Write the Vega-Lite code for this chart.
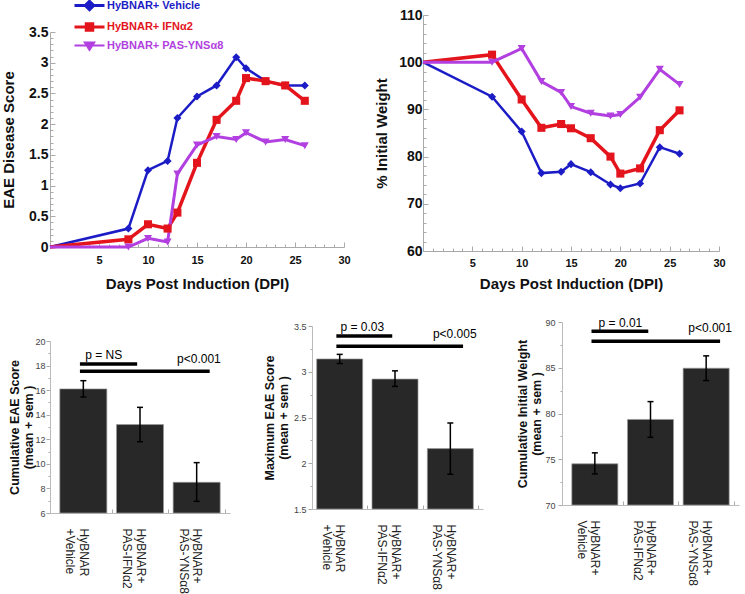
{
  "$schema": "https://vega.github.io/schema/vega-lite/v6.json",
  "padding": {"left": 1, "top": 0, "right": 0, "bottom": 0},
  "config": {"view": {"stroke": null}, "font": "Liberation Sans", "axis": {"grid": false, "labelOverlap": false}},
  "datasets": {
    "eae": [
      {"group": "HyBNAR+ Vehicle", "day": 0, "score": 0},
      {"group": "HyBNAR+ Vehicle", "day": 8, "score": 0.30},
      {"group": "HyBNAR+ Vehicle", "day": 10, "score": 1.25},
      {"group": "HyBNAR+ Vehicle", "day": 12, "score": 1.40},
      {"group": "HyBNAR+ Vehicle", "day": 13, "score": 2.10},
      {"group": "HyBNAR+ Vehicle", "day": 15, "score": 2.45},
      {"group": "HyBNAR+ Vehicle", "day": 17, "score": 2.63},
      {"group": "HyBNAR+ Vehicle", "day": 19, "score": 3.09},
      {"group": "HyBNAR+ Vehicle", "day": 20, "score": 2.91},
      {"group": "HyBNAR+ Vehicle", "day": 22, "score": 2.70},
      {"group": "HyBNAR+ Vehicle", "day": 24, "score": 2.63},
      {"group": "HyBNAR+ Vehicle", "day": 26, "score": 2.63},
      {"group": "HyBNAR+ IFNα2", "day": 0, "score": 0},
      {"group": "HyBNAR+ IFNα2", "day": 8, "score": 0.125},
      {"group": "HyBNAR+ IFNα2", "day": 10, "score": 0.37},
      {"group": "HyBNAR+ IFNα2", "day": 12, "score": 0.30},
      {"group": "HyBNAR+ IFNα2", "day": 13, "score": 0.56},
      {"group": "HyBNAR+ IFNα2", "day": 15, "score": 1.37},
      {"group": "HyBNAR+ IFNα2", "day": 17, "score": 2.07},
      {"group": "HyBNAR+ IFNα2", "day": 19, "score": 2.38},
      {"group": "HyBNAR+ IFNα2", "day": 20, "score": 2.75},
      {"group": "HyBNAR+ IFNα2", "day": 22, "score": 2.70},
      {"group": "HyBNAR+ IFNα2", "day": 24, "score": 2.63},
      {"group": "HyBNAR+ IFNα2", "day": 26, "score": 2.38},
      {"group": "HyBNAR+ PAS-YNSα8", "day": 0, "score": 0},
      {"group": "HyBNAR+ PAS-YNSα8", "day": 8, "score": 0.0},
      {"group": "HyBNAR+ PAS-YNSα8", "day": 10, "score": 0.14},
      {"group": "HyBNAR+ PAS-YNSα8", "day": 12, "score": 0.08},
      {"group": "HyBNAR+ PAS-YNSα8", "day": 13, "score": 1.19},
      {"group": "HyBNAR+ PAS-YNSα8", "day": 15, "score": 1.66},
      {"group": "HyBNAR+ PAS-YNSα8", "day": 17, "score": 1.80},
      {"group": "HyBNAR+ PAS-YNSα8", "day": 19, "score": 1.75},
      {"group": "HyBNAR+ PAS-YNSα8", "day": 20, "score": 1.86},
      {"group": "HyBNAR+ PAS-YNSα8", "day": 22, "score": 1.71},
      {"group": "HyBNAR+ PAS-YNSα8", "day": 24, "score": 1.75},
      {"group": "HyBNAR+ PAS-YNSα8", "day": 26, "score": 1.65}
    ],
    "weight": [
      {"group": "HyBNAR+ Vehicle", "day": 0, "weight": 100},
      {"group": "HyBNAR+ Vehicle", "day": 7, "weight": 92.7},
      {"group": "HyBNAR+ Vehicle", "day": 10, "weight": 85.3},
      {"group": "HyBNAR+ Vehicle", "day": 12, "weight": 76.5},
      {"group": "HyBNAR+ Vehicle", "day": 14, "weight": 76.8},
      {"group": "HyBNAR+ Vehicle", "day": 15, "weight": 78.4},
      {"group": "HyBNAR+ Vehicle", "day": 17, "weight": 76.7},
      {"group": "HyBNAR+ Vehicle", "day": 19, "weight": 74.1},
      {"group": "HyBNAR+ Vehicle", "day": 20, "weight": 73.3},
      {"group": "HyBNAR+ Vehicle", "day": 22, "weight": 74.3},
      {"group": "HyBNAR+ Vehicle", "day": 24, "weight": 82.0},
      {"group": "HyBNAR+ Vehicle", "day": 26, "weight": 80.6},
      {"group": "HyBNAR+ IFNα2", "day": 0, "weight": 100},
      {"group": "HyBNAR+ IFNα2", "day": 7, "weight": 101.6},
      {"group": "HyBNAR+ IFNα2", "day": 10, "weight": 92.1},
      {"group": "HyBNAR+ IFNα2", "day": 12, "weight": 86.1},
      {"group": "HyBNAR+ IFNα2", "day": 14, "weight": 86.9},
      {"group": "HyBNAR+ IFNα2", "day": 15, "weight": 86.0},
      {"group": "HyBNAR+ IFNα2", "day": 17, "weight": 83.9},
      {"group": "HyBNAR+ IFNα2", "day": 19, "weight": 80.0},
      {"group": "HyBNAR+ IFNα2", "day": 20, "weight": 76.4},
      {"group": "HyBNAR+ IFNα2", "day": 22, "weight": 77.5},
      {"group": "HyBNAR+ IFNα2", "day": 24, "weight": 85.6},
      {"group": "HyBNAR+ IFNα2", "day": 26, "weight": 89.8},
      {"group": "HyBNAR+ PAS-YNSα8", "day": 0, "weight": 100},
      {"group": "HyBNAR+ PAS-YNSα8", "day": 7, "weight": 100.0},
      {"group": "HyBNAR+ PAS-YNSα8", "day": 10, "weight": 102.9},
      {"group": "HyBNAR+ PAS-YNSα8", "day": 12, "weight": 95.9},
      {"group": "HyBNAR+ PAS-YNSα8", "day": 14, "weight": 93.6},
      {"group": "HyBNAR+ PAS-YNSα8", "day": 15, "weight": 90.6},
      {"group": "HyBNAR+ PAS-YNSα8", "day": 17, "weight": 89.2},
      {"group": "HyBNAR+ PAS-YNSα8", "day": 19, "weight": 88.6},
      {"group": "HyBNAR+ PAS-YNSα8", "day": 20, "weight": 88.9},
      {"group": "HyBNAR+ PAS-YNSα8", "day": 22, "weight": 92.6},
      {"group": "HyBNAR+ PAS-YNSα8", "day": 24, "weight": 98.5},
      {"group": "HyBNAR+ PAS-YNSα8", "day": 26, "weight": 95.3}
    ],
    "cum_eae": [
      {"pos": 1, "mean": 16.1, "lo": 15.44, "hi": 16.77},
      {"pos": 2, "mean": 13.2, "lo": 11.8, "hi": 14.6},
      {"pos": 3, "mean": 8.5, "lo": 6.95, "hi": 10.1}
    ],
    "max_eae": [
      {"pos": 1, "mean": 3.14, "lo": 3.09, "hi": 3.19},
      {"pos": 2, "mean": 2.92, "lo": 2.84, "hi": 3.01},
      {"pos": 3, "mean": 2.16, "lo": 1.88, "hi": 2.44}
    ],
    "cum_weight": [
      {"pos": 1, "mean": 74.5, "lo": 73.4, "hi": 75.7},
      {"pos": 2, "mean": 79.35, "lo": 77.4, "hi": 81.3},
      {"pos": 3, "mean": 84.95, "lo": 83.6, "hi": 86.3}
    ],
    "sig_cum_eae": [
      {"x1": 0.94, "x2": 1.95, "y": 18.13, "label": "p = NS", "lx": 1.36, "ly": 18.54},
      {"x1": 0.94, "x2": 3.23, "y": 17.54, "label": "p<0.001", "lx": 3.04, "ly": 18.2}
    ],
    "sig_max_eae": [
      {"x1": 0.94, "x2": 1.95, "y": 3.39, "label": "p = 0.03", "lx": 1.41, "ly": 3.445},
      {"x1": 0.94, "x2": 3.23, "y": 3.28, "label": "p<0.005", "lx": 3.08, "ly": 3.367}
    ],
    "sig_cum_weight": [
      {"x1": 0.94, "x2": 1.96, "y": 89.0, "label": "p = 0.01", "lx": 1.46, "ly": 89.45},
      {"x1": 0.94, "x2": 3.25, "y": 87.9, "label": "p<0.001", "lx": 3.07, "ly": 88.9}
    ]
  },
  "spacing": 26,
  "vconcat": [
    {
      "spacing": 23,
      "hconcat": [
        {
          "width": 294,
          "height": 232,
          "data": {"name": "eae"},
          "encoding": {
            "x": {"field": "day", "type": "quantitative", "title": "Days Post Induction (DPI)",
              "scale": {"domain": [0, 30], "nice": false, "zero": false},
              "axis": {"values": [1,2,3,4,5,6,7,8,9,10,11,12,13,14,15,16,17,18,19,20,21,22,23,24,25,26,27,28,29,30],
                "labelExpr": "datum.value % 5 === 0 ? datum.label : ''",
                "tickSize": {"condition": {"test": "datum.value % 5 === 0", "value": -5}, "value": -3},
                "tickColor": "#aaaaaa", "domainColor": "#aaaaaa",
                "labelFontSize": 11, "labelFontWeight": "bold", "labelColor": "#111111", "labelPadding": 12,
                "labelOverlap": false, "labelFlush": false, "labelBound": false,
                "titleFontSize": 15, "titleFontWeight": "bold", "titleColor": "#111111", "titlePadding": 9}},
            "y": {"field": "score", "type": "quantitative", "title": "EAE Disease Score",
              "scale": {"domain": [0, 3.5], "range": [232, 17], "nice": false, "zero": false},
              "axis": {"values": [0,0.1,0.2,0.3,0.4,0.5,0.6,0.7,0.8,0.9,1,1.1,1.2,1.3,1.4,1.5,1.6,1.7,1.8,1.9,2,2.1,2.2,2.3,2.4,2.5,2.6,2.7,2.8,2.9,3,3.1,3.2,3.3,3.4,3.5],
                "labelExpr": "abs(datum.value*2 - round(datum.value*2)) < 0.01 ? format(datum.value, '~g') : ''",
                "tickSize": {"condition": {"test": "abs(datum.value*2 - round(datum.value*2)) < 0.01", "value": -5}, "value": -3},
                "tickColor": "#aaaaaa", "domainColor": "#aaaaaa",
                "labelFontSize": 14, "labelFontWeight": "bold", "labelColor": "#111111", "labelPadding": 7,
                "labelOverlap": false, "labelFlush": false, "labelBound": false,
                "titleFontSize": 15, "titleFontWeight": "bold", "titleColor": "#111111", "titlePadding": 12}},
            "color": {"field": "group", "type": "nominal",
              "scale": {"domain": ["HyBNAR+ Vehicle", "HyBNAR+ IFNα2", "HyBNAR+ PAS-YNSα8"], "range": ["#1c1cc6", "#e4141c", "#b23fe0"]},
              "legend": {"orient": "none", "legendX": 34, "legendY": -15, "title": null, "padding": 0,
                "symbolSize": 100, "symbolStrokeWidth": 3, "labelFont": "Liberation Sans", "labelFontSize": 11, "labelFontWeight": "bold",
                "labelOffset": 12, "rowPadding": 1.5,
                "encode": {
                  "symbols": {"update": {
                    "shape": {"signal": "datum.value === 'HyBNAR+ Vehicle' ? 'M-3,0H3M0,-0.85L0.85,0L0,0.85L-0.85,0Z' : datum.value === 'HyBNAR+ IFNα2' ? 'M-3,0H3M-0.65,-0.65H0.65V0.65H-0.65Z' : 'M-3,0H3M-0.9,-0.6H0.9L0,0.85Z'"},
                    "fill": {"signal": "datum.value === 'HyBNAR+ Vehicle' ? '#1c1cc6' : datum.value === 'HyBNAR+ IFNα2' ? '#e4141c' : '#b23fe0'"},
                    "stroke": {"signal": "datum.value === 'HyBNAR+ Vehicle' ? '#1c1cc6' : datum.value === 'HyBNAR+ IFNα2' ? '#e4141c' : '#b23fe0'"},
                    "strokeWidth": {"signal": "datum.value === 'HyBNAR+ PAS-YNSα8' ? 2.2 : 3"},
                    "opacity": {"value": 1}
                  }},
                  "labels": {"update": {
                    "fill": {"signal": "datum.value === 'HyBNAR+ Vehicle' ? '#1c1cc6' : datum.value === 'HyBNAR+ IFNα2' ? '#e4141c' : '#b23fe0'"}
                  }}
                }}}
          },
          "layer": [
            {"mark": {"type": "line"},
             "encoding": {"strokeWidth": {"field": "group", "type": "nominal", "scale": {"range": [3.5, 2.5, 3.5]}, "legend": null}}},
            {"transform": [{"filter": "datum.day > 0"}],
             "mark": {"type": "point", "filled": true, "opacity": 1, "size": 65},
             "encoding": {"shape": {"field": "group", "type": "nominal", "scale": {"range": ["square", "triangle-down", "diamond"]}, "legend": null}}}
          ]
        },
        {
          "width": 296,
          "height": 236,
          "data": {"name": "weight"},
          "encoding": {
            "x": {"field": "day", "type": "quantitative", "title": "Days Post Induction (DPI)",
              "scale": {"domain": [0, 30], "nice": false, "zero": false},
              "axis": {"values": [1,2,3,4,5,6,7,8,9,10,11,12,13,14,15,16,17,18,19,20,21,22,23,24,25,26,27,28,29,30],
                "labelExpr": "datum.value % 5 === 0 ? datum.label : ''",
                "tickSize": {"condition": {"test": "datum.value % 5 === 0", "value": -5}, "value": -3},
                "tickColor": "#aaaaaa", "domainColor": "#aaaaaa",
                "labelFontSize": 11, "labelFontWeight": "bold", "labelColor": "#111111", "labelPadding": 11,
                "labelOverlap": false, "labelFlush": false, "labelBound": false,
                "titleFontSize": 15, "titleFontWeight": "bold", "titleColor": "#111111", "titlePadding": 6}},
            "y": {"field": "weight", "type": "quantitative", "title": "% Initial Weight",
              "scale": {"domain": [60, 110], "nice": false, "zero": false},
              "axis": {"values": [60,62,64,66,68,70,72,74,76,78,80,82,84,86,88,90,92,94,96,98,100,102,104,106,108,110],
                "labelExpr": "datum.value % 10 === 0 ? datum.label : ''",
                "tickSize": {"condition": {"test": "datum.value % 10 === 0", "value": -5}, "value": -3},
                "tickColor": "#aaaaaa", "domainColor": "#aaaaaa",
                "labelFontSize": 14, "labelFontWeight": "bold", "labelColor": "#111111", "labelPadding": 6,
                "labelOverlap": false, "labelFlush": false, "labelBound": false,
                "titleFontSize": 15, "titleFontWeight": "bold", "titleColor": "#111111", "titlePadding": 9}},
            "color": {"field": "group", "type": "nominal",
              "scale": {"domain": ["HyBNAR+ Vehicle", "HyBNAR+ IFNα2", "HyBNAR+ PAS-YNSα8"], "range": ["#1c1cc6", "#e4141c", "#b23fe0"]},
              "legend": null}
          },
          "layer": [
            {"mark": {"type": "line"},
             "encoding": {"strokeWidth": {"field": "group", "type": "nominal", "scale": {"range": [3.5, 2.5, 3.5]}, "legend": null}}},
            {"transform": [{"filter": "datum.day > 0"}],
             "mark": {"type": "point", "filled": true, "opacity": 1, "size": 65},
             "encoding": {"shape": {"field": "group", "type": "nominal", "scale": {"range": ["square", "triangle-down", "diamond"]}, "legend": null}}}
          ]
        }
      ]
    },
    {
      "spacing": 32,
      "hconcat": [
        {
          "width": 180,
          "height": 191,
          "layer": [
            {"data": {"name": "cum_eae"},
             "mark": {"type": "bar", "width": 47, "fill": "#282828", "stroke": "#9a9a9a", "strokeWidth": 0.7},
             "encoding": {
               "x": {"field": "pos", "type": "quantitative", "title": null,
                 "scale": {"domain": [0.5, 3.5], "nice": false, "zero": false},
                 "axis": {"values": [1, 1.5, 2, 2.5, 3, 3.5], "tickCount": 100,
                   "labelExpr": "datum.value === 1 ? ['HyBNAR', '+Vehicle'] : datum.value === 2 ? ['HyBNAR+', 'PAS-IFNα2'] : datum.value === 3 ? ['HyBNAR+', 'PAS-YNSα8'] : ''",
                   "tickSize": {"condition": {"test": "datum.value % 1 === 0", "value": 0}, "value": -4},
                   "tickColor": "#aaaaaa", "domainColor": "#bbbbbb",
                   "labelAngle": 90, "labelAlign": "left", "labelBaseline": "middle", "labelFontSize": 12, "labelLineHeight": 13.5,
                   "labelColor": "#222222", "labelPadding": 15, "labelOverlap": false, "labelFlush": false, "labelBound": false}},
               "y": {"field": "mean", "type": "quantitative",
                 "title": ["Cumulative EAE Score", "(mean + sem )"],
                 "scale": {"domain": [6, 20], "range": [191, 19], "nice": false, "zero": false},
                 "axis": {"values": [6,7,8,9,10,11,12,13,14,15,16,17,18,19,20], "tickCount": 100, "format": "~g",
                   "labelExpr": "datum.value % 2 === 0 ? datum.label : ''",
                   "tickSize": {"condition": {"test": "datum.value % 2 === 0", "value": 4}, "value": 2},
                   "tickColor": "#aaaaaa", "domainColor": "#bbbbbb",
                   "labelFontSize": 9, "labelColor": "#444444", "labelPadding": 1, "labelOverlap": false, "labelBound": false,
                   "titleFontSize": 12.5, "titleFontWeight": "bold", "titleColor": "#111111", "titleLineHeight": 14, "titlePadding": -1}},
               "y2": {"datum": 6}
             }},
            {"data": {"name": "cum_eae"},
             "mark": {"type": "rule", "color": "black", "strokeWidth": 1.5},
             "encoding": {
               "x": {"field": "pos", "type": "quantitative"},
               "y": {"field": "lo", "type": "quantitative"},
               "y2": {"field": "hi"}
             }},
            {"data": {"name": "cum_eae"},
             "mark": {"type": "tick", "orient": "horizontal", "color": "black", "size": 6, "thickness": 1.5, "opacity": 1},
             "encoding": {
               "x": {"field": "pos", "type": "quantitative"},
               "y": {"field": "hi", "type": "quantitative"}
             }},
            {"data": {"name": "cum_eae"},
             "mark": {"type": "tick", "orient": "horizontal", "color": "black", "size": 6, "thickness": 1.5, "opacity": 1},
             "encoding": {
               "x": {"field": "pos", "type": "quantitative"},
               "y": {"field": "lo", "type": "quantitative"}
             }},
            {"data": {"name": "sig_cum_eae"},
             "mark": {"type": "rule", "color": "black", "strokeWidth": 3.5},
             "encoding": {
               "x": {"field": "x1", "type": "quantitative"},
               "x2": {"field": "x2"},
               "y": {"field": "y", "type": "quantitative"}
             }},
            {"data": {"name": "sig_cum_eae"},
             "mark": {"type": "text", "color": "black", "fontSize": 12, "align": "center", "baseline": "alphabetic", "font": "Liberation Sans"},
             "encoding": {
               "x": {"field": "lx", "type": "quantitative"},
               "y": {"field": "ly", "type": "quantitative"},
               "text": {"field": "label"}
             }}
          ]
        },
        {
          "width": 171,
          "height": 187,
          "layer": [
            {"data": {"name": "max_eae"},
             "mark": {"type": "bar", "width": 46, "fill": "#282828", "stroke": "#9a9a9a", "strokeWidth": 0.7},
             "encoding": {
               "x": {"field": "pos", "type": "quantitative", "title": null,
                 "scale": {"domain": [0.59, 3.5], "nice": false, "zero": false},
                 "axis": {"values": [1, 1.5, 2, 2.5, 3, 3.5], "tickCount": 100,
                   "labelExpr": "datum.value === 1 ? ['HyBNAR', '+Vehicle'] : datum.value === 2 ? ['HyBNAR+', 'PAS-IFNα2'] : datum.value === 3 ? ['HyBNAR+', 'PAS-YNSα8'] : ''",
                   "tickSize": {"condition": {"test": "datum.value % 1 === 0", "value": 0}, "value": -4},
                   "tickColor": "#aaaaaa", "domainColor": "#bbbbbb",
                   "labelAngle": 90, "labelAlign": "left", "labelBaseline": "middle", "labelFontSize": 12, "labelLineHeight": 13.5,
                   "labelColor": "#222222", "labelPadding": 15, "labelOverlap": false, "labelFlush": false, "labelBound": false}},
               "y": {"field": "mean", "type": "quantitative",
                 "title": ["Maximum EAE Score", "(mean + sem )"],
                 "scale": {"domain": [1.5, 3.5], "range": [187, 4], "nice": false, "zero": false},
                 "axis": {"values": [1.5, 1.75, 2, 2.25, 2.5, 2.75, 3, 3.25, 3.5], "tickCount": 100,
                   "labelExpr": "(datum.value * 2) % 1 === 0 ? datum.label : ''",
                   "tickSize": {"condition": {"test": "(datum.value * 2) % 1 === 0", "value": 4}, "value": 2},
                   "tickColor": "#aaaaaa", "domainColor": "#bbbbbb", "format": "~g",
                   "labelFontSize": 9, "labelColor": "#444444", "labelPadding": 2, "labelOverlap": false, "labelBound": false,
                   "titleFontSize": 12.5, "titleFontWeight": "bold", "titleColor": "#111111", "titleLineHeight": 14, "titlePadding": 3}},
               "y2": {"datum": 1.5}
             }},
            {"data": {"name": "max_eae"},
             "mark": {"type": "rule", "color": "black", "strokeWidth": 1.5},
             "encoding": {
               "x": {"field": "pos", "type": "quantitative"},
               "y": {"field": "lo", "type": "quantitative"},
               "y2": {"field": "hi"}
             }},
            {"data": {"name": "max_eae"},
             "mark": {"type": "tick", "orient": "horizontal", "color": "black", "size": 6, "thickness": 1.5, "opacity": 1},
             "encoding": {
               "x": {"field": "pos", "type": "quantitative"},
               "y": {"field": "hi", "type": "quantitative"}
             }},
            {"data": {"name": "max_eae"},
             "mark": {"type": "tick", "orient": "horizontal", "color": "black", "size": 6, "thickness": 1.5, "opacity": 1},
             "encoding": {
               "x": {"field": "pos", "type": "quantitative"},
               "y": {"field": "lo", "type": "quantitative"}
             }},
            {"data": {"name": "sig_max_eae"},
             "mark": {"type": "rule", "color": "black", "strokeWidth": 3.5},
             "encoding": {
               "x": {"field": "x1", "type": "quantitative"},
               "x2": {"field": "x2"},
               "y": {"field": "y", "type": "quantitative"}
             }},
            {"data": {"name": "sig_max_eae"},
             "mark": {"type": "text", "color": "black", "fontSize": 12, "align": "center", "baseline": "alphabetic", "font": "Liberation Sans"},
             "encoding": {
               "x": {"field": "lx", "type": "quantitative"},
               "y": {"field": "ly", "type": "quantitative"},
               "text": {"field": "label"}
             }}
          ]
        },
        {
          "width": 177,
          "height": 183,
          "layer": [
            {"data": {"name": "cum_weight"},
             "mark": {"type": "bar", "width": 46, "fill": "#282828", "stroke": "#9a9a9a", "strokeWidth": 0.7},
             "encoding": {
               "x": {"field": "pos", "type": "quantitative", "title": null,
                 "scale": {"domain": [0.5, 3.5], "nice": false, "zero": false},
                 "axis": {"values": [1, 1.5, 2, 2.5, 3, 3.5], "tickCount": 100,
                   "labelExpr": "datum.value === 1 ? ['HyBNAR+', 'Vehicle'] : datum.value === 2 ? ['HyBNAR+', 'PAS-IFNα2'] : datum.value === 3 ? ['HyBNAR+', 'PAS-YNSα8'] : ''",
                   "tickSize": {"condition": {"test": "datum.value % 1 === 0", "value": 0}, "value": -4},
                   "tickColor": "#aaaaaa", "domainColor": "#bbbbbb",
                   "labelAngle": 90, "labelAlign": "left", "labelBaseline": "middle", "labelFontSize": 12, "labelLineHeight": 13.5,
                   "labelColor": "#222222", "labelPadding": 15, "labelOverlap": false, "labelFlush": false, "labelBound": false}},
               "y": {"field": "mean", "type": "quantitative",
                 "title": ["Cumulative Initial Weight", "(mean + sem )"],
                 "scale": {"domain": [70, 90], "nice": false, "zero": false},
                 "axis": {"values": [70, 72.5, 75, 77.5, 80, 82.5, 85, 87.5, 90], "tickCount": 100,
                   "labelExpr": "datum.value % 5 === 0 ? datum.label : ''",
                   "tickSize": {"condition": {"test": "datum.value % 5 === 0", "value": 4}, "value": 2},
                   "tickColor": "#aaaaaa", "domainColor": "#bbbbbb", "format": "~g",
                   "labelFontSize": 9, "labelColor": "#444444", "labelPadding": 3, "labelOverlap": false, "labelBound": false,
                   "titleFontSize": 12.5, "titleFontWeight": "bold", "titleColor": "#111111", "titleLineHeight": 14, "titlePadding": 1}},
               "y2": {"datum": 70}
             }},
            {"data": {"name": "cum_weight"},
             "mark": {"type": "rule", "color": "black", "strokeWidth": 1.5},
             "encoding": {
               "x": {"field": "pos", "type": "quantitative"},
               "y": {"field": "lo", "type": "quantitative"},
               "y2": {"field": "hi"}
             }},
            {"data": {"name": "cum_weight"},
             "mark": {"type": "tick", "orient": "horizontal", "color": "black", "size": 6, "thickness": 1.5, "opacity": 1},
             "encoding": {
               "x": {"field": "pos", "type": "quantitative"},
               "y": {"field": "hi", "type": "quantitative"}
             }},
            {"data": {"name": "cum_weight"},
             "mark": {"type": "tick", "orient": "horizontal", "color": "black", "size": 6, "thickness": 1.5, "opacity": 1},
             "encoding": {
               "x": {"field": "pos", "type": "quantitative"},
               "y": {"field": "lo", "type": "quantitative"}
             }},
            {"data": {"name": "sig_cum_weight"},
             "mark": {"type": "rule", "color": "black", "strokeWidth": 3.5},
             "encoding": {
               "x": {"field": "x1", "type": "quantitative"},
               "x2": {"field": "x2"},
               "y": {"field": "y", "type": "quantitative"}
             }},
            {"data": {"name": "sig_cum_weight"},
             "mark": {"type": "text", "color": "black", "fontSize": 12, "align": "center", "baseline": "alphabetic", "font": "Liberation Sans"},
             "encoding": {
               "x": {"field": "lx", "type": "quantitative"},
               "y": {"field": "ly", "type": "quantitative"},
               "text": {"field": "label"}
             }}
          ]
        }
      ]
    }
  ]
}
